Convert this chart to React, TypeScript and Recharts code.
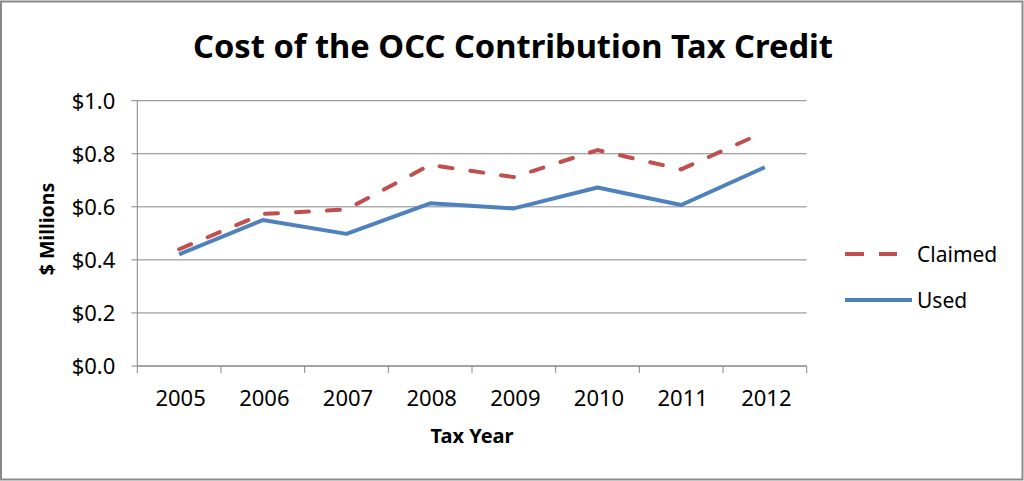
import React from 'react';
import { LineChart, Line, XAxis, YAxis, CartesianGrid, Customized } from 'recharts';

const years = ['2005', '2006', '2007', '2008', '2009', '2010', '2011', '2012'];
const claimed = [0.44, 0.573, 0.59, 0.758, 0.712, 0.814, 0.741, 0.883];
const used = [0.421, 0.55, 0.498, 0.613, 0.594, 0.673, 0.607, 0.749];
const yTicks = [0, 0.2, 0.4, 0.6, 0.8, 1.0];
const title = 'Cost of the OCC Contribution Tax Credit';
const yTitle = '$ Millions';
const xTitle = 'Tax Year';
const seriesNames = ['Claimed', 'Used'];
const seriesKeys = ['claimed', 'used'];
const seriesColors = ['#C0504D', '#4F81BD'];

const data = years.map((year, i) => ({ pos: i + 0.5, year, claimed: claimed[i], used: used[i] }));
const xTicks: number[] = [];
for (let i = 0; i <= years.length; i++) {
  xTicks.push(i);
  if (i < years.length) xTicks.push(i + 0.5);
}

const FONT = '"Noto Sans", "DejaVu Sans", sans-serif';
const GRAY = '#868686';

function XTick(props: any) {
  const { x, y, payload } = props;
  const v = payload.value as number;
  if (Number.isInteger(v)) {
    return <line x1={x} x2={x} y1={y - 7} y2={y} stroke={GRAY} strokeWidth={1} />;
  }
  return (
    <text x={x + 1.5} y={y + 33} textAnchor="middle" fontFamily={FONT} fontSize={22} fill="#000">
      {years[Math.floor(v)]}
    </text>
  );
}

function Extras() {
  return (
    <g>
      <rect x={1} y={1.5} width={1021.5} height={478} fill="none" stroke="#8a8a8a" strokeWidth={2} />
      <text x={513} y={58} textAnchor="middle" fontFamily={FONT} fontWeight="bold" fontSize={33}
        textLength={640} lengthAdjust="spacingAndGlyphs" fill="#000">{title}</text>
      <text x={54} y={229} textAnchor="middle" fontFamily={FONT} fontWeight="bold" fontSize={19.5}
        transform="rotate(-90, 54, 229)" fill="#000">{yTitle}</text>
      <text x={472} y={443} textAnchor="middle" fontFamily={FONT} fontWeight="bold" fontSize={20} fill="#000">{xTitle}</text>
      <line x1={845} x2={897} y1={254} y2={254} stroke={seriesColors[0]} strokeWidth={4} strokeDasharray="19 15" />
      <text x={917} y={261.5} fontFamily={FONT} fontSize={21} fill="#000">{seriesNames[0]}</text>
      <line x1={845} x2={912} y1={300} y2={300} stroke={seriesColors[1]} strokeWidth={4} />
      <text x={917} y={307.5} fontFamily={FONT} fontSize={21} fill="#000">{seriesNames[1]}</text>
    </g>
  );
}

export default function App() {
  return (
    <div style={{ position: 'absolute', left: 0, top: 0, width: 1024, height: 481, background: '#fff' }}>
      <LineChart width={1024} height={481} data={data}
        margin={{ top: 100.7, right: 217.3, bottom: 85, left: 0 }}>
        <CartesianGrid vertical={false} stroke={GRAY} strokeWidth={1} />
        <XAxis dataKey="pos" type="number" domain={[0, years.length]} ticks={xTicks} interval={0}
          height={30} tickSize={7} tickMargin={0} tickLine={false}
          axisLine={{ stroke: GRAY, strokeWidth: 1 }} tick={<XTick />} />
        <YAxis type="number" domain={[0, 1]} ticks={yTicks} interval={0} width={137.3}
          tickSize={6} tickMargin={16}
          tickLine={{ stroke: GRAY, strokeWidth: 1 }} axisLine={{ stroke: GRAY, strokeWidth: 1 }}
          tick={{ fontFamily: FONT, fontSize: 22, fill: '#000' }}
          tickFormatter={(v: number) => '$' + v.toFixed(1)} />
        <Line type="linear" dataKey={seriesKeys[0]} name={seriesNames[0]} stroke={seriesColors[0]}
          strokeWidth={4} strokeDasharray="13 18" strokeLinecap="round" strokeLinejoin="round"
          dot={false} activeDot={false} isAnimationActive={false} />
        <Line type="linear" dataKey={seriesKeys[1]} name={seriesNames[1]} stroke={seriesColors[1]}
          strokeWidth={4} strokeLinejoin="round" dot={false} activeDot={false} isAnimationActive={false} />
        <Customized component={Extras} />
      </LineChart>
    </div>
  );
}
